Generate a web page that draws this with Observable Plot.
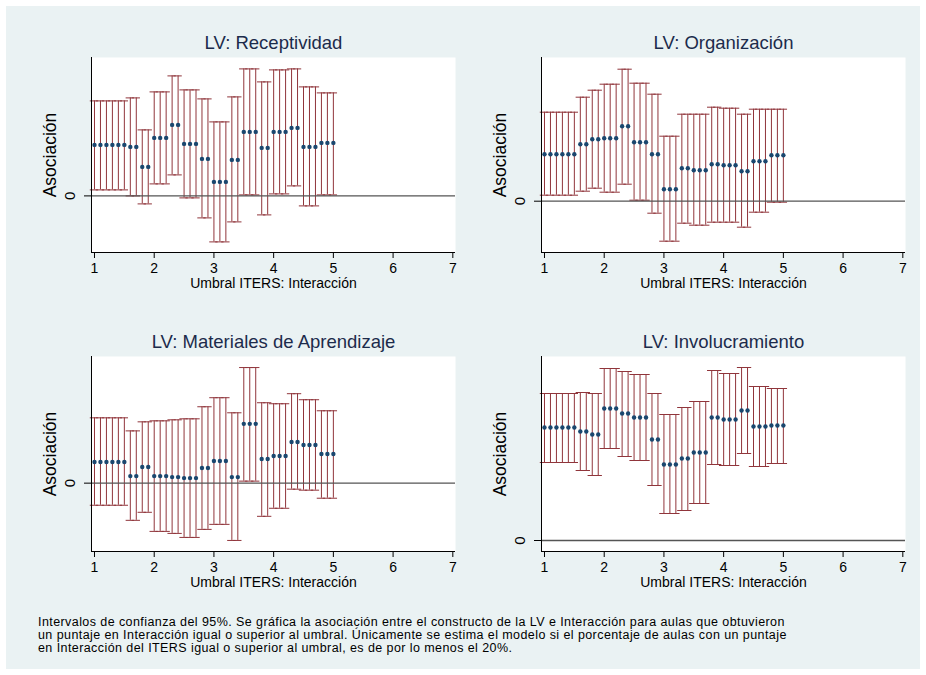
<!DOCTYPE html>
<html><head><meta charset="utf-8">
<script src="https://cdn.jsdelivr.net/npm/d3@7"></script>
<script src="https://cdn.jsdelivr.net/npm/@observablehq/plot@0.6"></script>
<style>
html,body{margin:0;padding:0;background:#fff;}
#page{position:relative;width:926px;height:675px;background:#fff;overflow:hidden;font-family:"Liberation Sans",Arial,sans-serif;}
#bg{position:absolute;left:6px;top:6px;width:914px;height:663px;background:#EAF2F3;}
.panel{position:absolute;}
#caption{position:absolute;left:38px;top:616px;font-size:12.5px;letter-spacing:0.42px;line-height:12.8px;color:#000;white-space:nowrap;}
</style></head><body>
<div id="page"><div id="bg"></div>
<div id="p1" class="panel" style="left:0px;top:30px"></div>
<div id="p2" class="panel" style="left:450px;top:30px"></div>
<div id="p3" class="panel" style="left:0px;top:329px"></div>
<div id="p4" class="panel" style="left:450px;top:329px"></div>
<div id="caption">Intervalos de confianza del 95%. Se gráfica la asociación entre el constructo de la LV e Interacción para aulas que obtuvieron<br>un puntaje en Interacción igual o superior al umbral. Únicamente se estima el modelo si el porcentaje de aulas con un puntaje<br>en Interacción del ITERS igual o superior al umbral, es de por lo menos el 20%.</div>
</div>
<script>
const thresholds = [1.0,1.1,1.2,1.3,1.4,1.5,1.6,1.7,1.8,1.9,2.0,2.1,2.2,2.3,2.4,2.5,2.6,2.7,2.8,2.9,3.0,3.1,3.2,3.3,3.4,3.5,3.6,3.7,3.8,3.9,4.0,4.1,4.2,4.3,4.4,4.5,4.6,4.7,4.8,4.9,5.0];
const xTicks = [1,2,3,4,5,6,7];
const yTicks = [0];
const xDomain = [0.95, 7.045];
const xLabel = "Umbral ITERS: Interacción";
const yLabel = "Asociación";
const titles = ["LV: Receptividad","LV: Organización","LV: Materiales de Aprendizaje","LV: Involucramiento"];

// LV: Receptividad
const recEst = [0.51,0.51,0.51,0.51,0.51,0.51,0.49,0.49,0.29,0.29,0.58,0.58,0.58,0.71,0.71,0.52,0.52,0.52,0.37,0.37,0.14,0.14,0.14,0.36,0.36,0.64,0.64,0.64,0.48,0.48,0.64,0.64,0.64,0.68,0.68,0.49,0.49,0.49,0.53,0.53,0.53];
const recLo  = [0.06,0.06,0.06,0.06,0.06,0.06,0.00,0.00,-0.08,-0.08,0.12,0.12,0.12,0.21,0.21,-0.02,-0.02,-0.02,-0.22,-0.22,-0.46,-0.46,-0.46,-0.26,-0.26,0.01,0.01,0.01,-0.19,-0.19,0.02,0.02,0.02,0.10,0.10,-0.10,-0.10,-0.10,0.01,0.01,0.01];
const recHi  = [0.95,0.95,0.95,0.95,0.95,0.95,0.98,0.98,0.66,0.66,1.04,1.04,1.04,1.20,1.20,1.06,1.06,1.06,0.97,0.97,0.74,0.74,0.74,0.99,0.99,1.27,1.27,1.27,1.14,1.14,1.26,1.26,1.26,1.27,1.27,1.09,1.09,1.09,1.03,1.03,1.03];

// LV: Organización
const orgEst = [0.47,0.47,0.47,0.47,0.47,0.47,0.57,0.57,0.62,0.62,0.63,0.63,0.63,0.75,0.75,0.59,0.59,0.59,0.47,0.47,0.12,0.12,0.12,0.33,0.33,0.31,0.31,0.31,0.37,0.37,0.36,0.36,0.36,0.30,0.30,0.40,0.40,0.40,0.46,0.46,0.46];
const orgLo  = [0.06,0.06,0.06,0.06,0.06,0.06,0.10,0.10,0.13,0.13,0.09,0.09,0.09,0.17,0.17,0.01,0.01,0.01,-0.12,-0.12,-0.40,-0.40,-0.40,-0.22,-0.22,-0.24,-0.24,-0.24,-0.21,-0.21,-0.21,-0.21,-0.21,-0.26,-0.26,-0.11,-0.11,-0.11,-0.01,-0.01,-0.01];
const orgHi  = [0.89,0.89,0.89,0.89,0.89,0.89,1.04,1.04,1.11,1.11,1.17,1.17,1.17,1.32,1.32,1.18,1.18,1.18,1.07,1.07,0.65,0.65,0.65,0.87,0.87,0.87,0.87,0.87,0.94,0.94,0.93,0.93,0.93,0.87,0.87,0.92,0.92,0.92,0.92,0.92,0.92];

// LV: Materiales de Aprendizaje
const matEst = [0.21,0.21,0.21,0.21,0.21,0.21,0.07,0.07,0.16,0.16,0.07,0.07,0.07,0.06,0.06,0.05,0.05,0.05,0.15,0.15,0.22,0.22,0.22,0.06,0.06,0.59,0.59,0.59,0.24,0.24,0.27,0.27,0.27,0.41,0.41,0.38,0.38,0.38,0.29,0.29,0.29];
const matLo  = [-0.22,-0.22,-0.22,-0.22,-0.22,-0.22,-0.37,-0.37,-0.29,-0.29,-0.48,-0.48,-0.48,-0.50,-0.50,-0.54,-0.54,-0.54,-0.46,-0.46,-0.41,-0.41,-0.41,-0.57,-0.57,0.02,0.02,0.02,-0.33,-0.33,-0.25,-0.25,-0.25,-0.06,-0.06,-0.07,-0.07,-0.07,-0.15,-0.15,-0.15];
const matHi  = [0.65,0.65,0.65,0.65,0.65,0.65,0.52,0.52,0.61,0.61,0.62,0.62,0.62,0.63,0.63,0.64,0.64,0.64,0.76,0.76,0.85,0.85,0.85,0.70,0.70,1.15,1.15,1.15,0.80,0.80,0.79,0.79,0.79,0.89,0.89,0.83,0.83,0.83,0.72,0.72,0.72];

// LV: Involucramiento
const invEst = [1.13,1.13,1.13,1.13,1.13,1.13,1.09,1.09,1.06,1.06,1.32,1.32,1.32,1.27,1.27,1.23,1.23,1.23,1.01,1.01,0.76,0.76,0.76,0.82,0.82,0.88,0.88,0.88,1.23,1.23,1.21,1.21,1.21,1.30,1.30,1.14,1.14,1.14,1.15,1.15,1.15];
const invLo  = [0.78,0.78,0.78,0.78,0.78,0.78,0.70,0.70,0.65,0.65,0.92,0.92,0.92,0.84,0.84,0.80,0.80,0.80,0.55,0.55,0.27,0.27,0.27,0.30,0.30,0.37,0.37,0.37,0.76,0.76,0.75,0.75,0.75,0.87,0.87,0.74,0.74,0.74,0.77,0.77,0.77];
const invHi  = [1.47,1.47,1.47,1.47,1.47,1.47,1.48,1.48,1.47,1.47,1.72,1.72,1.72,1.69,1.69,1.66,1.66,1.66,1.47,1.47,1.26,1.26,1.26,1.33,1.33,1.39,1.39,1.39,1.70,1.70,1.67,1.67,1.67,1.73,1.73,1.54,1.54,1.54,1.52,1.52,1.52];

const yDomains = [[-0.566, 1.384], [-0.513, 1.437], [-0.68, 1.26], [-0.11, 1.84]];

const ciColor = "#90353B";
const estColor = "#1A476F";
const titleColor = "#1c2b4b";
const capHalf = 0.07;
const font = "'Liberation Sans', Arial, sans-serif";

function panel(title, est, lo, hi, yDomain) {
  const rows = thresholds.map((t, i) => ({t, est: est[i], lo: lo[i], hi: hi[i]}));
  return Plot.plot({
    width: 463, height: 270,
    marginLeft: 91, marginRight: 8, marginTop: 27, marginBottom: 48,
    x: {domain: xDomain},
    y: {domain: yDomain},
    style: {background: "transparent", fontFamily: font, color: "#000", overflow: "visible"},
    marks: [
      Plot.frame({fill: "white", stroke: null}),
      Plot.ruleX(rows, {x: "t", y1: "lo", y2: "hi", stroke: ciColor, strokeWidth: 1}),
      Plot.ruleY(rows, {y: "hi", x1: d => d.t - capHalf, x2: d => d.t + capHalf, stroke: ciColor}),
      Plot.ruleY(rows, {y: "lo", x1: d => d.t - capHalf, x2: d => d.t + capHalf, stroke: ciColor}),
      Plot.ruleY(yTicks, {stroke: "#555", strokeWidth: 1.3}),
      Plot.dot(rows, {x: "t", y: "est", r: 2.2, fill: estColor}),
      Plot.ruleX([xDomain[0]], {stroke: "#000"}),
      Plot.ruleY([yDomain[0]], {stroke: "#000"}),
      Plot.axisX({ticks: xTicks, tickSize: 6, tickPadding: 5, fontSize: 14, label: null, tickFormat: d => String(d)}),
      Plot.axisY({ticks: yTicks, tickSize: 7, tickPadding: 10, tickRotate: -90, fontSize: 15, label: null, tickFormat: d => String(d)}),
      Plot.text([title], {text: d => d, frameAnchor: "top", lineAnchor: "middle", dy: -14, fontSize: 18.5, fill: titleColor}),
      Plot.text([xLabel], {text: d => d, frameAnchor: "bottom", lineAnchor: "middle", dy: 31, fontSize: 14}),
      Plot.text([yLabel], {text: d => d, frameAnchor: "left", textAnchor: "middle", lineAnchor: "middle", dx: -41, rotate: -90, fontSize: 17.5})
    ]
  });
}

document.getElementById("p1").appendChild(panel(titles[0], recEst, recLo, recHi, yDomains[0]));
document.getElementById("p2").appendChild(panel(titles[1], orgEst, orgLo, orgHi, yDomains[1]));
document.getElementById("p3").appendChild(panel(titles[2], matEst, matLo, matHi, yDomains[2]));
document.getElementById("p4").appendChild(panel(titles[3], invEst, invLo, invHi, yDomains[3]));
</script>
</body></html>
